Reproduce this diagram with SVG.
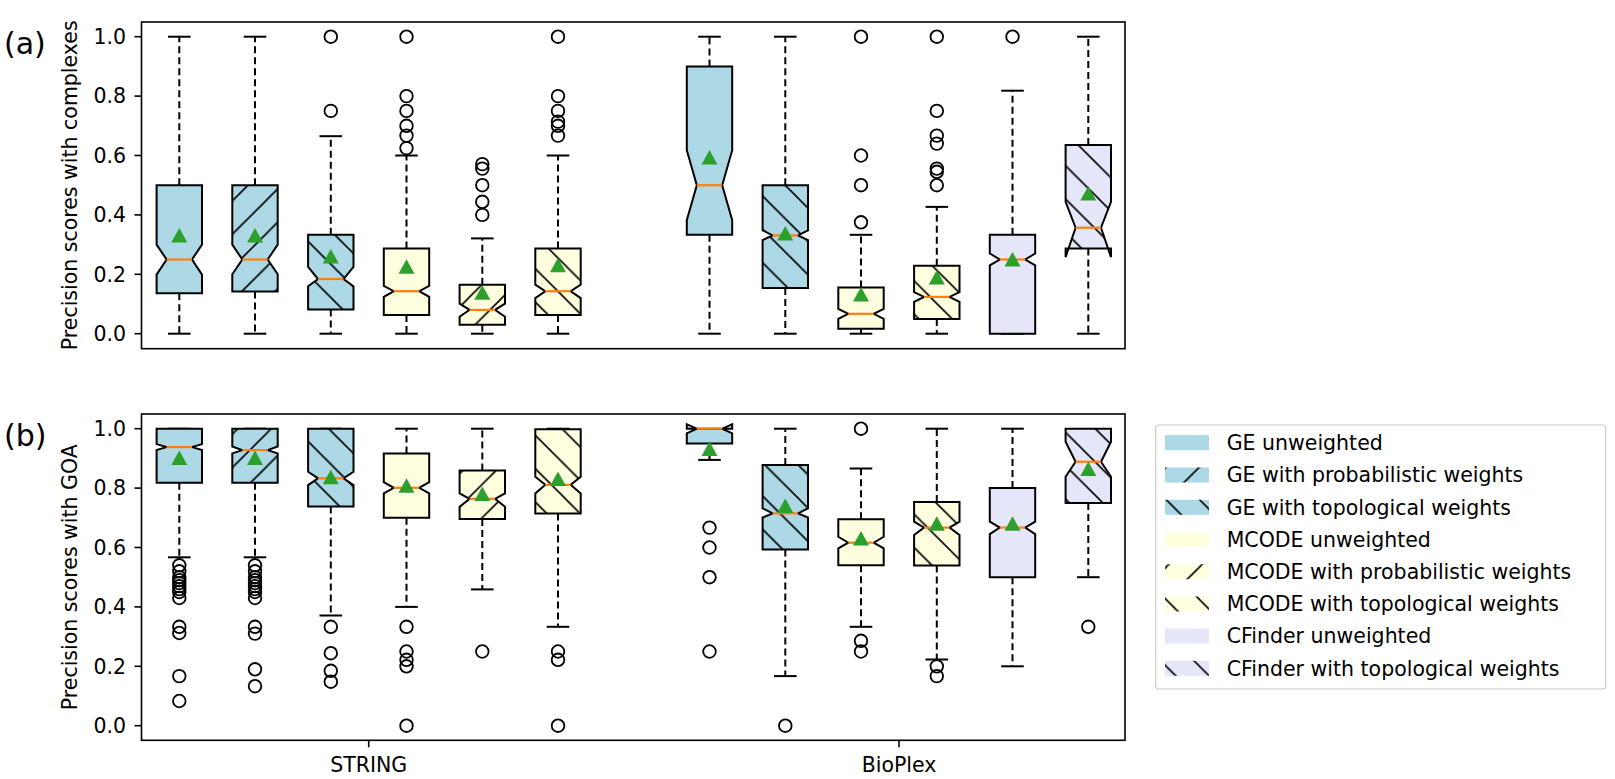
<svg xmlns="http://www.w3.org/2000/svg" width="1615" height="779" viewBox="0 0 1615 779">
<style>
text{font-family:"DejaVu Sans","Liberation Sans",sans-serif;fill:#000}
.t{font-size:20.5px}
.lab{font-size:30px}
.ax{fill:none;stroke:#000;stroke-width:1.6}
.tk{stroke:#000;stroke-width:1.6}
.box{stroke:#000;stroke-width:2}
.wh{stroke:#000;stroke-width:2;stroke-dasharray:7,4;fill:none}
.cap{stroke:#000;stroke-width:2}
.med{stroke:#ff7f0e;stroke-width:2.2}
.fl{fill:none;stroke:#000;stroke-width:1.8}
.mn{fill:#2ca02c}
.hl{stroke:#000;stroke-width:1.6}
</style>
<defs>
<g id="hs"><line class="hl" x1="-16.67" y1="16.67" x2="16.67" y2="-16.67"/><line class="hl" x1="0" y1="33.33" x2="33.33" y2="0"/><line class="hl" x1="16.67" y1="50" x2="50" y2="16.67"/></g>
<g id="hb"><line class="hl" x1="-16.67" y1="16.67" x2="16.67" y2="50"/><line class="hl" x1="0" y1="0" x2="33.33" y2="33.33"/><line class="hl" x1="16.67" y1="-16.67" x2="50" y2="16.67"/></g>
<pattern id="bS" patternUnits="userSpaceOnUse" width="33.33" height="33.33"><rect width="34" height="34" fill="#add8e6"/><use href="#hs"/></pattern>
<pattern id="bB" patternUnits="userSpaceOnUse" width="33.33" height="33.33"><rect width="34" height="34" fill="#add8e6"/><use href="#hb"/></pattern>
<pattern id="yS" patternUnits="userSpaceOnUse" width="33.33" height="33.33"><rect width="34" height="34" fill="#ffffe0"/><use href="#hs"/></pattern>
<pattern id="yB" patternUnits="userSpaceOnUse" width="33.33" height="33.33"><rect width="34" height="34" fill="#ffffe0"/><use href="#hb"/></pattern>
<pattern id="lB" patternUnits="userSpaceOnUse" width="33.33" height="33.33"><rect width="34" height="34" fill="#e6e6fa"/><use href="#hb"/></pattern>
<circle id="o" r="6.3" class="fl"/>
<path id="m" class="mn" d="M0,-8.5 L-8,6 L8,6 Z"/>
</defs>
<rect width="1615" height="779" fill="#fff"/>

<!-- Axes -->
<g id="axes-a">
<rect class="ax" x="141.5" y="22" width="983.5" height="326.7"/>
<g class="tk"><line x1="134.5" y1="333.7" x2="141.5" y2="333.7"/><line x1="134.5" y1="274.3" x2="141.5" y2="274.3"/><line x1="134.5" y1="214.9" x2="141.5" y2="214.9"/><line x1="134.5" y1="155.5" x2="141.5" y2="155.5"/><line x1="134.5" y1="96.1" x2="141.5" y2="96.1"/><line x1="134.5" y1="36.7" x2="141.5" y2="36.7"/></g>
<g class="t" text-anchor="end"><text x="126" y="341">0.0</text><text x="126" y="281.6">0.2</text><text x="126" y="222.2">0.4</text><text x="126" y="162.8">0.6</text><text x="126" y="103.4">0.8</text><text x="126" y="44">1.0</text></g>
<text class="t" transform="translate(77,185.3) rotate(-90)" text-anchor="middle">Precision scores with complexes</text>
<text class="lab" x="4" y="54">(a)</text>
</g>
<g id="axes-b">
<rect class="ax" x="141.5" y="414" width="983.5" height="326.3"/>
<g class="tk"><line x1="134.5" y1="725.7" x2="141.5" y2="725.7"/><line x1="134.5" y1="666.3" x2="141.5" y2="666.3"/><line x1="134.5" y1="606.9" x2="141.5" y2="606.9"/><line x1="134.5" y1="547.5" x2="141.5" y2="547.5"/><line x1="134.5" y1="488.1" x2="141.5" y2="488.1"/><line x1="134.5" y1="428.7" x2="141.5" y2="428.7"/>
<line x1="368.7" y1="740.3" x2="368.7" y2="747.3"/><line x1="899" y1="740.3" x2="899" y2="747.3"/></g>
<g class="t" text-anchor="end"><text x="126" y="733">0.0</text><text x="126" y="673.6">0.2</text><text x="126" y="614.2">0.4</text><text x="126" y="554.8">0.6</text><text x="126" y="495.4">0.8</text><text x="126" y="436">1.0</text></g>
<text class="t" transform="translate(77,577.2) rotate(-90)" text-anchor="middle">Precision scores with GOA</text>
<text class="lab" x="4" y="446">(b)</text>
<text class="t" x="368.7" y="771.5" text-anchor="middle">STRING</text>
<text class="t" x="899" y="771.5" text-anchor="middle">BioPlex</text>
</g>

<!-- Panel a boxes -->
<g id="a1"><line class="wh" x1="179.3" y1="185.2" x2="179.3" y2="36.7"/><line class="wh" x1="179.3" y1="293.3" x2="179.3" y2="333.7"/><line class="cap" x1="168" y1="36.7" x2="190.6" y2="36.7"/><line class="cap" x1="168" y1="333.7" x2="190.6" y2="333.7"/>
<polygon class="box" fill="#add8e6" points="156.6,293.3 156.6,274.6 166.6,259.5 156.6,244.6 156.6,185.2 202,185.2 202,244.6 192,259.5 202,274.6 202,293.3"/><line class="med" x1="166.6" y1="259.5" x2="192" y2="259.5"/><use href="#m" x="179.3" y="236.6"/></g>
<g id="a2"><line class="wh" x1="255" y1="185.2" x2="255" y2="36.7"/><line class="wh" x1="255" y1="291.5" x2="255" y2="333.7"/><line class="cap" x1="243.7" y1="36.7" x2="266.3" y2="36.7"/><line class="cap" x1="243.7" y1="333.7" x2="266.3" y2="333.7"/>
<polygon class="box" fill="url(#bS)" points="232.3,291.5 232.3,274.3 242.3,259.5 232.3,244.6 232.3,185.2 277.7,185.2 277.7,244.6 267.7,259.5 277.7,274.3 277.7,291.5"/><line class="med" x1="242.3" y1="259.5" x2="267.7" y2="259.5"/><use href="#m" x="255" y="236.6"/></g>
<g id="a3"><line class="wh" x1="330.8" y1="234.8" x2="330.8" y2="136.2"/><line class="wh" x1="330.8" y1="309.6" x2="330.8" y2="333.7"/><line class="cap" x1="319.5" y1="136.2" x2="342.1" y2="136.2"/><line class="cap" x1="319.5" y1="333.7" x2="342.1" y2="333.7"/>
<polygon class="box" fill="url(#bB)" points="308.1,309.6 308.1,286.2 318.1,279 308.1,266.9 308.1,234.8 353.5,234.8 353.5,266.9 343.5,279 353.5,286.2 353.5,309.6"/><line class="med" x1="318.1" y1="279" x2="343.5" y2="279"/><use href="#m" x="330.8" y="257.4"/>
<use href="#o" x="330.8" y="110.9"/><use href="#o" x="330.8" y="36.7"/></g>
<g id="a4"><line class="wh" x1="406.5" y1="248.5" x2="406.5" y2="155.5"/><line class="wh" x1="406.5" y1="315" x2="406.5" y2="333.7"/><line class="cap" x1="395.2" y1="155.5" x2="417.8" y2="155.5"/><line class="cap" x1="395.2" y1="333.7" x2="417.8" y2="333.7"/>
<polygon class="box" fill="#ffffe0" points="383.8,315 383.8,296.9 393.8,291.2 383.8,285.9 383.8,248.5 429.2,248.5 429.2,285.9 419.2,291.2 429.2,296.9 429.2,315"/><line class="med" x1="393.8" y1="291.2" x2="419.2" y2="291.2"/><use href="#m" x="406.5" y="267.8"/>
<use href="#o" x="406.5" y="36.7"/><use href="#o" x="406.5" y="96.1"/><use href="#o" x="406.5" y="110.9"/><use href="#o" x="406.5" y="125.8"/><use href="#o" x="406.5" y="135.6"/><use href="#o" x="406.5" y="148.1"/></g>
<g id="a5"><line class="wh" x1="482.3" y1="284.7" x2="482.3" y2="238.4"/><line class="wh" x1="482.3" y1="324.8" x2="482.3" y2="333.7"/><line class="cap" x1="471" y1="238.4" x2="493.6" y2="238.4"/><line class="cap" x1="471" y1="333.7" x2="493.6" y2="333.7"/>
<polygon class="box" fill="url(#yS)" points="459.6,324.8 459.6,316.8 469.6,309.9 459.6,303.7 459.6,284.7 505,284.7 505,303.7 495,309.9 505,316.8 505,324.8"/><line class="med" x1="469.6" y1="309.9" x2="495" y2="309.9"/><use href="#m" x="482.3" y="293.7"/>
<use href="#o" x="482.3" y="164.1"/><use href="#o" x="482.3" y="168.6"/><use href="#o" x="482.3" y="185.2"/><use href="#o" x="482.3" y="201.8"/><use href="#o" x="482.3" y="214.9"/></g>
<g id="a6"><line class="wh" x1="558" y1="248.5" x2="558" y2="155.5"/><line class="wh" x1="558" y1="315" x2="558" y2="333.7"/><line class="cap" x1="546.7" y1="155.5" x2="569.3" y2="155.5"/><line class="cap" x1="546.7" y1="333.7" x2="569.3" y2="333.7"/>
<polygon class="box" fill="url(#yB)" points="535.3,315 535.3,298.1 545.3,291.2 535.3,284.7 535.3,248.5 580.7,248.5 580.7,284.7 570.7,291.2 580.7,298.1 580.7,315"/><line class="med" x1="545.3" y1="291.2" x2="570.7" y2="291.2"/><use href="#m" x="558" y="266.3"/>
<use href="#o" x="558" y="36.7"/><use href="#o" x="558" y="96.1"/><use href="#o" x="558" y="110.9"/><use href="#o" x="558" y="121.6"/><use href="#o" x="558" y="125.8"/><use href="#o" x="558" y="135.6"/></g>
<g id="a7"><line class="wh" x1="709.5" y1="66.4" x2="709.5" y2="36.7"/><line class="wh" x1="709.5" y1="234.8" x2="709.5" y2="333.7"/><line class="cap" x1="698.2" y1="36.7" x2="720.8" y2="36.7"/><line class="cap" x1="698.2" y1="333.7" x2="720.8" y2="333.7"/>
<polygon class="box" fill="#add8e6" points="686.8,234.8 686.8,220.2 696.8,185.2 686.8,150.2 686.8,66.4 732.2,66.4 732.2,150.2 722.2,185.2 732.2,220.2 732.2,234.8"/><line class="med" x1="696.8" y1="185.2" x2="722.2" y2="185.2"/><use href="#m" x="709.5" y="158.5"/></g>
<g id="a8"><line class="wh" x1="785.3" y1="185.2" x2="785.3" y2="36.7"/><line class="wh" x1="785.3" y1="288" x2="785.3" y2="333.7"/><line class="cap" x1="774" y1="36.7" x2="796.6" y2="36.7"/><line class="cap" x1="774" y1="333.7" x2="796.6" y2="333.7"/>
<polygon class="box" fill="url(#bB)" points="762.6,288 762.6,240.1 772.6,235.4 762.6,230.3 762.6,185.2 808,185.2 808,230.3 798,235.4 808,240.1 808,288"/><line class="med" x1="772.6" y1="235.4" x2="798" y2="235.4"/><use href="#m" x="785.3" y="234.6"/></g>
<g id="a9"><line class="wh" x1="861" y1="287.4" x2="861" y2="234.8"/><line class="wh" x1="861" y1="328.7" x2="861" y2="333.7"/><line class="cap" x1="849.7" y1="234.8" x2="872.3" y2="234.8"/><line class="cap" x1="849.7" y1="333.7" x2="872.3" y2="333.7"/>
<polygon class="box" fill="#ffffe0" points="838.3,328.7 838.3,318.9 848.3,313.8 838.3,308.8 838.3,287.4 883.7,287.4 883.7,308.8 873.7,313.8 883.7,318.9 883.7,328.7"/><line class="med" x1="848.3" y1="313.8" x2="873.7" y2="313.8"/><use href="#m" x="861" y="295.4"/>
<use href="#o" x="861" y="36.7"/><use href="#o" x="861" y="155.5"/><use href="#o" x="861" y="185.2"/><use href="#o" x="861" y="222.3"/></g>
<g id="a10"><line class="wh" x1="936.8" y1="265.7" x2="936.8" y2="206.9"/><line class="wh" x1="936.8" y1="319.1" x2="936.8" y2="333.7"/><line class="cap" x1="925.5" y1="206.9" x2="948.1" y2="206.9"/><line class="cap" x1="925.5" y1="333.7" x2="948.1" y2="333.7"/>
<polygon class="box" fill="url(#yB)" points="914.1,319.1 914.1,301.9 924.1,296.9 914.1,292.1 914.1,265.7 959.5,265.7 959.5,292.1 949.5,296.9 959.5,301.9 959.5,319.1"/><line class="med" x1="924.1" y1="296.9" x2="949.5" y2="296.9"/><use href="#m" x="936.8" y="278.5"/>
<use href="#o" x="936.8" y="36.7"/><use href="#o" x="936.8" y="110.9"/><use href="#o" x="936.8" y="135.6"/><use href="#o" x="936.8" y="143.6"/><use href="#o" x="936.8" y="168.6"/><use href="#o" x="936.8" y="171.8"/><use href="#o" x="936.8" y="185.2"/></g>
<g id="a11"><line class="wh" x1="1012.5" y1="234.8" x2="1012.5" y2="90.7"/><line class="cap" x1="1001.2" y1="90.7" x2="1023.8" y2="90.7"/><line class="cap" x1="1001.2" y1="333.7" x2="1023.8" y2="333.7"/>
<polygon class="box" fill="#e6e6fa" points="989.8,333.7 989.8,265.4 999.8,259.5 989.8,253.5 989.8,234.8 1035.2,234.8 1035.2,253.5 1025.2,259.5 1035.2,265.4 1035.2,333.7"/><line class="med" x1="999.8" y1="259.5" x2="1025.2" y2="259.5"/><use href="#m" x="1012.5" y="260.4"/>
<use href="#o" x="1012.5" y="36.7"/></g>
<g id="a12"><line class="wh" x1="1088.3" y1="145.1" x2="1088.3" y2="36.7"/><line class="wh" x1="1088.3" y1="248.5" x2="1088.3" y2="333.7"/><line class="cap" x1="1077" y1="36.7" x2="1099.6" y2="36.7"/><line class="cap" x1="1077" y1="333.7" x2="1099.6" y2="333.7"/>
<polygon class="box" fill="url(#lB)" points="1065.6,248.5 1065.6,257.1 1075.6,227.7 1065.6,201.8 1065.6,145.1 1111,145.1 1111,201.8 1101,227.7 1111,257.1 1111,248.5"/><line class="med" x1="1075.6" y1="227.7" x2="1101" y2="227.7"/><use href="#m" x="1088.3" y="194.5"/></g>

<!-- Panel b boxes -->
<g id="b1"><line class="wh" x1="179.3" y1="482.8" x2="179.3" y2="557.3"/><line class="cap" x1="168" y1="557.3" x2="190.6" y2="557.3"/><line class="cap" x1="168" y1="428.7" x2="190.6" y2="428.7"/>
<polygon class="box" fill="#add8e6" points="156.6,482.8 156.6,450.1 166.6,447.1 156.6,444.1 156.6,428.7 202,428.7 202,444.1 192,447.1 202,450.1 202,482.8"/><line class="med" x1="166.6" y1="447.1" x2="192" y2="447.1"/><use href="#m" x="179.3" y="459.1"/>
<use href="#o" x="179.3" y="565.3"/><use href="#o" x="179.3" y="571.3"/><use href="#o" x="179.3" y="577.2"/><use href="#o" x="179.3" y="580.2"/><use href="#o" x="179.3" y="583.1"/><use href="#o" x="179.3" y="586.1"/><use href="#o" x="179.3" y="589.1"/><use href="#o" x="179.3" y="592"/><use href="#o" x="179.3" y="598"/><use href="#o" x="179.3" y="626.8"/><use href="#o" x="179.3" y="633"/><use href="#o" x="179.3" y="676.1"/><use href="#o" x="179.3" y="701"/></g>
<g id="b2"><line class="wh" x1="255" y1="482.8" x2="255" y2="557.3"/><line class="cap" x1="243.7" y1="557.3" x2="266.3" y2="557.3"/><line class="cap" x1="243.7" y1="428.7" x2="266.3" y2="428.7"/>
<polygon class="box" fill="url(#bS)" points="232.3,482.8 232.3,453.4 242.3,450.1 232.3,446.5 232.3,428.7 277.7,428.7 277.7,446.5 267.7,450.1 277.7,453.4 277.7,482.8"/><line class="med" x1="242.3" y1="450.1" x2="267.7" y2="450.1"/><use href="#m" x="255" y="459.1"/>
<use href="#o" x="255" y="565.3"/><use href="#o" x="255" y="571.3"/><use href="#o" x="255" y="577.2"/><use href="#o" x="255" y="580.2"/><use href="#o" x="255" y="583.1"/><use href="#o" x="255" y="586.1"/><use href="#o" x="255" y="589.1"/><use href="#o" x="255" y="592"/><use href="#o" x="255" y="598"/><use href="#o" x="255" y="626.8"/><use href="#o" x="255" y="633.6"/><use href="#o" x="255" y="669.3"/><use href="#o" x="255" y="686.2"/></g>
<g id="b3"><line class="wh" x1="330.8" y1="506.5" x2="330.8" y2="615.5"/><line class="cap" x1="319.5" y1="615.5" x2="342.1" y2="615.5"/><line class="cap" x1="319.5" y1="428.7" x2="342.1" y2="428.7"/>
<polygon class="box" fill="url(#bB)" points="308.1,506.5 308.1,485.1 318.1,478.3 308.1,471.8 308.1,428.7 353.5,428.7 353.5,471.8 343.5,478.3 353.5,485.1 353.5,506.5"/><line class="med" x1="318.1" y1="478.3" x2="343.5" y2="478.3"/><use href="#m" x="330.8" y="478.3"/>
<use href="#o" x="330.8" y="626.8"/><use href="#o" x="330.8" y="653.2"/><use href="#o" x="330.8" y="670.8"/><use href="#o" x="330.8" y="681.7"/></g>
<g id="b4"><line class="wh" x1="406.5" y1="453.6" x2="406.5" y2="428.7"/><line class="wh" x1="406.5" y1="517.8" x2="406.5" y2="606.9"/><line class="cap" x1="395.2" y1="428.7" x2="417.8" y2="428.7"/><line class="cap" x1="395.2" y1="606.9" x2="417.8" y2="606.9"/>
<polygon class="box" fill="#ffffe0" points="383.8,517.8 383.8,493.4 393.8,487.8 383.8,482.2 383.8,453.6 429.2,453.6 429.2,482.2 419.2,487.8 429.2,493.4 429.2,517.8"/><line class="med" x1="393.8" y1="487.8" x2="419.2" y2="487.8"/><use href="#m" x="406.5" y="486.7"/>
<use href="#o" x="406.5" y="626.8"/><use href="#o" x="406.5" y="651.5"/><use href="#o" x="406.5" y="659.8"/><use href="#o" x="406.5" y="666.3"/><use href="#o" x="406.5" y="725.7"/></g>
<g id="b5"><line class="wh" x1="482.3" y1="470.6" x2="482.3" y2="428.7"/><line class="wh" x1="482.3" y1="519" x2="482.3" y2="589.4"/><line class="cap" x1="471" y1="428.7" x2="493.6" y2="428.7"/><line class="cap" x1="471" y1="589.4" x2="493.6" y2="589.4"/>
<polygon class="box" fill="url(#yS)" points="459.6,519 459.6,506.8 469.6,498.8 459.6,493.4 459.6,470.6 505,470.6 505,493.4 495,498.8 505,506.8 505,519"/><line class="med" x1="469.6" y1="498.8" x2="495" y2="498.8"/><use href="#m" x="482.3" y="495"/>
<use href="#o" x="482.3" y="651.5"/></g>
<g id="b6"><line class="wh" x1="558" y1="513.6" x2="558" y2="626.8"/><line class="cap" x1="546.7" y1="428.7" x2="569.3" y2="428.7"/><line class="cap" x1="546.7" y1="626.8" x2="569.3" y2="626.8"/>
<polygon class="box" fill="url(#yB)" points="535.3,513.6 535.3,493.4 545.3,484.8 535.3,476.8 535.3,429.3 580.7,429.3 580.7,476.8 570.7,484.8 580.7,493.4 580.7,513.6"/><line class="med" x1="545.3" y1="484.8" x2="570.7" y2="484.8"/><use href="#m" x="558" y="480.1"/>
<use href="#o" x="558" y="651.5"/><use href="#o" x="558" y="659.8"/><use href="#o" x="558" y="725.7"/></g>
<g id="b7"><line class="wh" x1="709.5" y1="443.6" x2="709.5" y2="459.9"/><line class="cap" x1="698.2" y1="459.9" x2="720.8" y2="459.9"/>
<polygon class="box" fill="#add8e6" points="686.8,443.6 686.8,433.4 696.8,428.7 686.8,424.2 686.8,428.7 732.2,428.7 732.2,424.2 722.2,428.7 732.2,433.4 732.2,443.6"/><line class="med" x1="696.8" y1="428.7" x2="722.2" y2="428.7"/><use href="#m" x="709.5" y="450.1"/>
<use href="#o" x="709.5" y="527.6"/><use href="#o" x="709.5" y="547.5"/><use href="#o" x="709.5" y="577.2"/><use href="#o" x="709.5" y="651.5"/></g>
<g id="b8"><line class="wh" x1="785.3" y1="464.9" x2="785.3" y2="428.7"/><line class="wh" x1="785.3" y1="549.6" x2="785.3" y2="676.1"/><line class="cap" x1="774" y1="428.7" x2="796.6" y2="428.7"/><line class="cap" x1="774" y1="676.1" x2="796.6" y2="676.1"/>
<polygon class="box" fill="url(#bB)" points="762.6,549.6 762.6,517.5 772.6,513.3 762.6,508.3 762.6,464.9 808,464.9 808,508.3 798,513.3 808,517.5 808,549.6"/><line class="med" x1="772.6" y1="513.3" x2="798" y2="513.3"/><use href="#m" x="785.3" y="506.9"/>
<use href="#o" x="785.3" y="725.7"/></g>
<g id="b9"><line class="wh" x1="861" y1="519.3" x2="861" y2="468.5"/><line class="wh" x1="861" y1="565.3" x2="861" y2="626.8"/><line class="cap" x1="849.7" y1="468.5" x2="872.3" y2="468.5"/><line class="cap" x1="849.7" y1="626.8" x2="872.3" y2="626.8"/>
<polygon class="box" fill="#ffffe0" points="838.3,565.3 838.3,548.4 848.3,542.7 838.3,536.8 838.3,519.3 883.7,519.3 883.7,536.8 873.7,542.7 883.7,548.4 883.7,565.3"/><line class="med" x1="848.3" y1="542.7" x2="873.7" y2="542.7"/><use href="#m" x="861" y="539.5"/>
<use href="#o" x="861" y="428.7"/><use href="#o" x="861" y="640.8"/><use href="#o" x="861" y="651.5"/></g>
<g id="b10"><line class="wh" x1="936.8" y1="502.1" x2="936.8" y2="428.7"/><line class="wh" x1="936.8" y1="565.6" x2="936.8" y2="659.5"/><line class="cap" x1="925.5" y1="428.7" x2="948.1" y2="428.7"/><line class="cap" x1="925.5" y1="659.5" x2="948.1" y2="659.5"/>
<polygon class="box" fill="url(#yB)" points="914.1,565.6 914.1,535 924.1,527.6 914.1,521.6 914.1,502.1 959.5,502.1 959.5,521.6 949.5,527.6 959.5,535 959.5,565.6"/><line class="med" x1="924.1" y1="527.6" x2="949.5" y2="527.6"/><use href="#m" x="936.8" y="524.7"/>
<use href="#o" x="936.8" y="666.3"/><use href="#o" x="936.8" y="676.1"/></g>
<g id="b11"><line class="wh" x1="1012.5" y1="488.1" x2="1012.5" y2="428.7"/><line class="wh" x1="1012.5" y1="577.2" x2="1012.5" y2="666.3"/><line class="cap" x1="1001.2" y1="428.7" x2="1023.8" y2="428.7"/><line class="cap" x1="1001.2" y1="666.3" x2="1023.8" y2="666.3"/>
<polygon class="box" fill="#e6e6fa" points="989.8,577.2 989.8,534.1 999.8,527.6 989.8,521.6 989.8,488.1 1035.2,488.1 1035.2,521.6 1025.2,527.6 1035.2,534.1 1035.2,577.2"/><line class="med" x1="999.8" y1="527.6" x2="1025.2" y2="527.6"/><use href="#m" x="1012.5" y="524.7"/></g>
<g id="b12"><line class="wh" x1="1088.3" y1="502.9" x2="1088.3" y2="577.2"/><line class="cap" x1="1077" y1="577.2" x2="1099.6" y2="577.2"/>
<polygon class="box" fill="url(#lB)" points="1065.6,502.9 1065.6,476.8 1075.6,461.7 1065.6,441.8 1065.6,428.7 1111,428.7 1111,441.8 1101,461.7 1111,476.8 1111,502.9"/><line class="med" x1="1075.6" y1="461.7" x2="1101" y2="461.7"/><use href="#m" x="1088.3" y="470"/>
<use href="#o" x="1088.3" y="626.8"/></g>

<!-- Legend -->
<g id="legend">
<rect x="1155.7" y="425" width="450" height="264" rx="3" fill="#fff" stroke="#ccc" stroke-width="1.2"/>
<rect x="1165" y="435.2" width="44" height="15" fill="#add8e6"/>
<rect x="1165" y="467.5" width="44" height="15" fill="url(#bS)"/>
<rect x="1165" y="499.8" width="44" height="15" fill="url(#bB)"/>
<rect x="1165" y="531.8" width="44" height="15" fill="#ffffe0"/>
<rect x="1165" y="564.2" width="44" height="15" fill="url(#yS)"/>
<rect x="1165" y="596.5" width="44" height="15" fill="url(#yB)"/>
<rect x="1165" y="628.5" width="44" height="15" fill="#e6e6fa"/>
<rect x="1165" y="660.8" width="44" height="15" fill="url(#lB)"/>
<g class="t"><text x="1226.7" y="450">GE unweighted</text><text x="1226.7" y="482.3">GE with probabilistic weights</text><text x="1226.7" y="514.6">GE with topological weights</text><text x="1226.7" y="546.6">MCODE unweighted</text><text x="1226.7" y="579">MCODE with probabilistic weights</text><text x="1226.7" y="611.3">MCODE with topological weights</text><text x="1226.7" y="643.3">CFinder unweighted</text><text x="1226.7" y="675.6">CFinder with topological weights</text></g>
</g>
</svg>
